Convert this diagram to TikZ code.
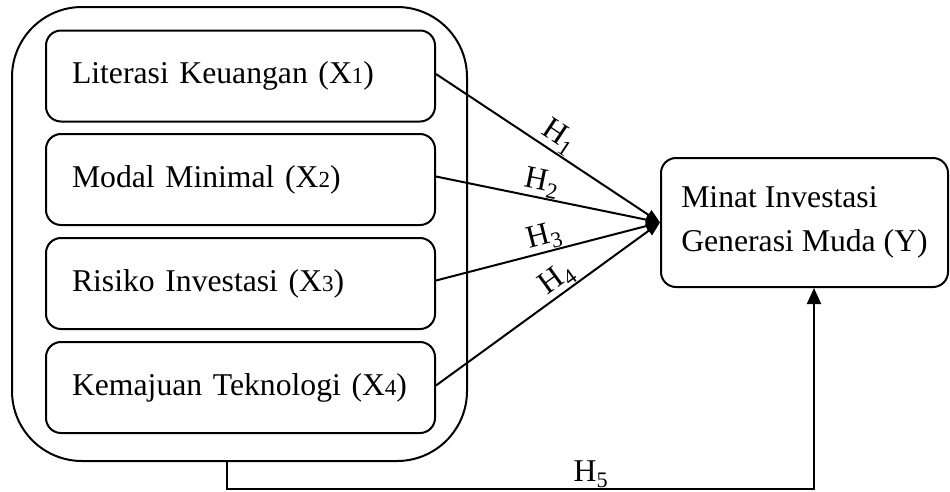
\documentclass[tikz,border=0pt]{standalone}
\usepackage{fontspec}
\setmainfont{Liberation Serif}
\usetikzlibrary{arrows.meta}
\newcommand{\xsb}[1]{{\fontsize{23}{23}\selectfont #1}}
\begin{document}
\begin{tikzpicture}[x=1pt,y=-1pt,line width=2pt,
  varbox/.style={draw, rounded corners=15pt, minimum width=389pt, minimum height=91pt,
    text width=337pt, inner xsep=26pt, inner ysep=0pt, align=left,
    font=\fontsize{31.7}{44}\selectfont},
  ybox/.style={draw, rounded corners=15pt, minimum width=287pt, minimum height=129pt,
    align=left, inner sep=0pt, font=\fontsize{31.7}{44}\selectfont},
  outerbox/.style={draw, rounded corners=70pt, minimum width=455pt, minimum height=454pt},
  hyp/.style={-{Triangle[length=14pt,width=11pt]}},
  hyp5/.style={-{Triangle[length=16pt,width=14pt]}},
  hlab/.style={font=\fontsize{31.7}{36}\selectfont, inner sep=0.5pt}]
\useasboundingbox (0,0) rectangle (950,491);
\node[outerbox] (outer) at (239.5,234) {};
\node[varbox] (x1) at (240.5,76) {Literasi Keuangan (X\xsb{1})};
\node[varbox] (x2) at (240.5,179.5) {Modal Minimal (X\xsb{2})};
\node[varbox] (x3) at (240.5,283.5) {Risiko Investasi (X\xsb{3})};
\node[varbox] (x4) at (240.5,387.5) {Kemajuan Teknologi (X\xsb{4})};
\node[ybox] (y) at (804.5,222.5) {Minat Investasi\\Generasi Muda (Y)};
\draw[hyp] ([yshift=2pt]x1.east) -- node[hlab,sloped,above,pos=0.51]{H\textsubscript{1}} (y.west);
\draw[hyp] ([yshift=3pt]x2.east) -- node[hlab,sloped,above,pos=0.46]{H\textsubscript{2}} (y.west);
\draw[hyp] ([yshift=3pt]x3.east) -- node[hlab,sloped,above,pos=0.50]{H\textsubscript{3}} (y.west);
\draw[hyp] ([yshift=2pt]x4.east) -- node[hlab,sloped,above,pos=0.58]{H\textsubscript{4}} (y.west);
\coordinate (b1) at (227,489);
\coordinate (b2) at (814,489);
\draw[hyp5] (outer.south -| b1) -- (b1) -- node[hlab,above,pos=0.62]{H\textsubscript{5}} (b2) -- (y.south -| b2);
\end{tikzpicture}
\end{document}
